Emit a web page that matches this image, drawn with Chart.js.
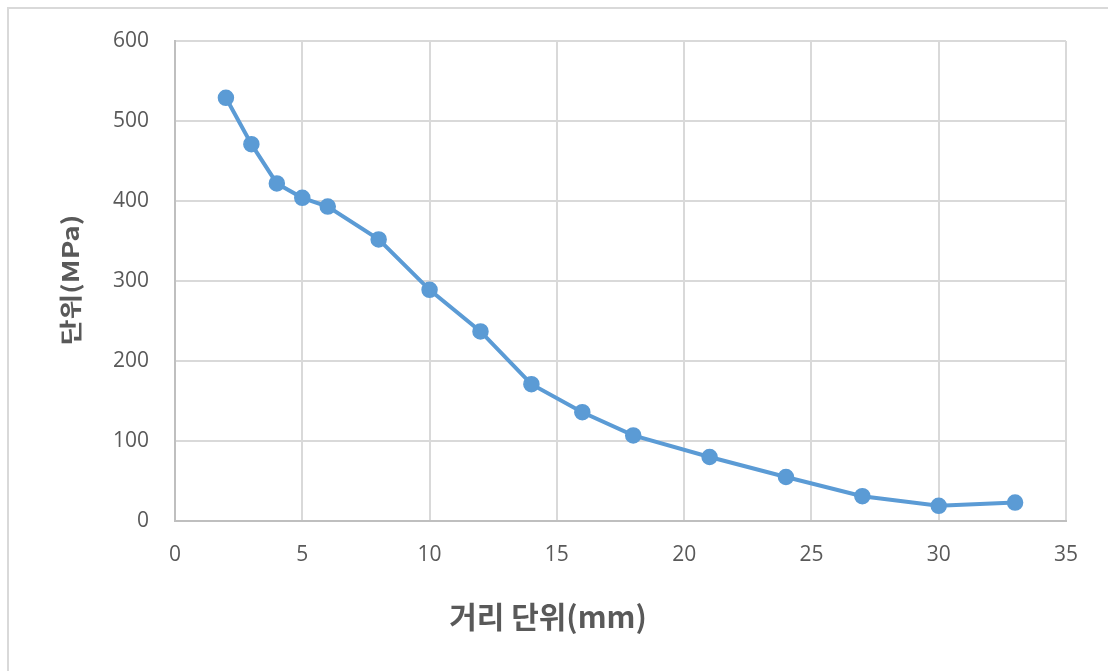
<!DOCTYPE html>
<html>
<head>
<meta charset="utf-8">
<script src="https://cdn.jsdelivr.net/npm/chart.js@4"></script>
<style>
  html, body { margin: 0; padding: 0; background: #ffffff; overflow: hidden; }
  #wrap { position: absolute; left: 0; top: 0; width: 1108px; height: 671px; overflow: hidden; }
  #frame { position: absolute; left: 7px; top: 7px; width: 1200px; height: 800px; border: 2px solid #d9d9d9; box-sizing: border-box; pointer-events: none; }
  canvas { position: absolute; left: 0; top: 0; }
</style>
</head>
<body>
<div id="wrap">
  <canvas id="c" width="1108" height="671"></canvas>
  <div id="frame"></div>
</div>
<script>
// Distance (mm) and stress (MPa) readings
const distances = [2, 3, 4, 5, 6, 8, 10, 12, 14, 16, 18, 21, 24, 27, 30, 33];
const stresses  = [529, 471, 422, 404, 393, 352, 289, 237, 171, 136, 107, 80, 55, 31, 19, 23];
const xTicks = [0, 5, 10, 15, 20, 25, 30, 35];
const yTicks = [0, 100, 200, 300, 400, 500, 600];
const xTitle = '거리 단위(mm)';
const yTitle = '단위(MPa)';

const points = distances.map((d, i) => ({ x: d, y: stresses[i] }));
const tickFont = { family: '"Open Sans", "Noto Sans", sans-serif', size: 21 };
const titleColor = '#595959';

// Axis titles drawn on the canvas at fixed places beside the plot
const axisTitles = {
  id: 'axisTitles',
  afterDraw(chart) {
    const ctx = chart.ctx;
    ctx.save();
    ctx.fillStyle = titleColor;
    ctx.textBaseline = 'middle';
    ctx.textAlign = 'center';
    ctx.font = 'bold 30px "Noto Sans CJK KR", sans-serif';
    ctx.fillText(xTitle, 548, 617);
    ctx.translate(70, 280);
    ctx.rotate(-Math.PI / 2);
    ctx.scale(1, 0.82);
    ctx.font = 'bold 28px "Noto Sans CJK KR", sans-serif';
    ctx.fillText(yTitle, 0, 0);
    ctx.restore();
  }
};

new Chart(document.getElementById('c'), {
  type: 'scatter',
  data: {
    datasets: [{
      data: points,
      showLine: true,
      borderColor: '#5b9bd5',
      backgroundColor: '#5b9bd5',
      borderWidth: 4,
      pointRadius: 7.5,
      pointBorderWidth: 1.5,
      pointHoverRadius: 7.5,
      tension: 0
    }]
  },
  plugins: [axisTitles],
  options: {
    responsive: false,
    animation: false,
    events: [],
    layout: { padding: { left: 0, right: 42, top: 41, bottom: 0 } },
    plugins: { legend: { display: false }, tooltip: { enabled: false } },
    scales: {
      x: {
        type: 'linear',
        min: 0, max: 35,
        afterBuildTicks: s => { s.ticks = xTicks.map(v => ({ value: v })); },
        afterFit: s => { s.height = 150; },
        grid: { color: '#d9d9d9', lineWidth: 2, drawTicks: false },
        border: { color: '#bfbfbf', width: 2 },
        ticks: { color: '#595959', font: tickFont, padding: 21, maxRotation: 0 }
      },
      y: {
        type: 'linear',
        min: 0, max: 600,
        afterBuildTicks: s => { s.ticks = yTicks.map(v => ({ value: v })); },
        afterFit: s => { s.width = 175; },
        grid: { color: '#d9d9d9', lineWidth: 2, drawTicks: false },
        border: { color: '#bfbfbf', width: 2 },
        ticks: { color: '#595959', font: tickFont, padding: 26 }
      }
    }
  }
});
</script>
</body>
</html>
